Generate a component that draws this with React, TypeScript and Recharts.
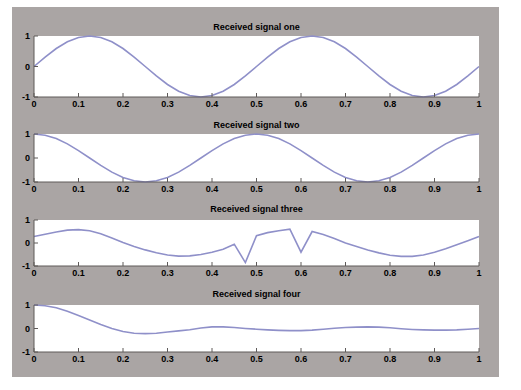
import React from "react";
import { LineChart, Line, XAxis, YAxis, CartesianGrid } from "recharts";

const xs = [
  0, 0.025, 0.05, 0.075, 0.1, 0.125, 0.15, 0.175, 0.2, 0.225, 0.25, 0.275, 0.3, 0.325, 0.35, 0.375, 0.4, 0.425, 0.45, 0.475,
  0.5, 0.525, 0.55, 0.575, 0.6, 0.625, 0.65, 0.675, 0.7, 0.725, 0.75, 0.775, 0.8, 0.825, 0.85, 0.875, 0.9, 0.925, 0.95, 0.975, 1,
];

const signalOne = [
  0, 0.31, 0.59, 0.81, 0.95, 1, 0.95, 0.81, 0.59, 0.31, 0, -0.31, -0.59, -0.81, -0.95, -1, -0.95, -0.81, -0.59, -0.31,
  0, 0.31, 0.59, 0.81, 0.95, 1, 0.95, 0.81, 0.59, 0.31, 0, -0.31, -0.59, -0.81, -0.95, -1, -0.95, -0.81, -0.59, -0.31, 0,
];

const signalTwo = [
  1, 0.95, 0.81, 0.59, 0.31, 0, -0.31, -0.59, -0.81, -0.95, -1, -0.95, -0.81, -0.59, -0.31, 0, 0.31, 0.59, 0.81, 0.95,
  1, 0.95, 0.81, 0.59, 0.31, 0, -0.31, -0.59, -0.81, -0.95, -1, -0.95, -0.81, -0.59, -0.31, 0, 0.31, 0.59, 0.81, 0.95, 1,
];

const signalThree = [
  0.28, 0.38, 0.48, 0.56, 0.58, 0.53, 0.4, 0.22, 0.02, -0.15, -0.3, -0.42, -0.52, -0.57, -0.56, -0.5, -0.4, -0.27, -0.05, -0.85,
  0.32, 0.45, 0.53, 0.6, -0.4, 0.5, 0.37, 0.2, 0.0, -0.15, -0.3, -0.43, -0.53, -0.58, -0.58, -0.52, -0.4, -0.25, -0.08, 0.1, 0.28,
];

const signalFour = [
  1.0, 0.97, 0.88, 0.73, 0.55, 0.36, 0.17, 0.0, -0.13, -0.2, -0.22, -0.2, -0.15, -0.1, -0.05, 0.02, 0.07, 0.07, 0.04, 0.0,
  -0.03, -0.06, -0.08, -0.09, -0.09, -0.07, -0.03, 0.01, 0.04, 0.06, 0.07, 0.06, 0.03, -0.01, -0.04, -0.06, -0.07, -0.07, -0.06, -0.03, 0.0,
];

const titles = ["Received signal one", "Received signal two", "Received signal three", "Received signal four"];
const xTicks = [0, 0.1, 0.2, 0.3, 0.4, 0.5, 0.6, 0.7, 0.8, 0.9, 1];
const yTicks = [-1, 0, 1];

const series = [signalOne, signalTwo, signalThree, signalFour];

// panel placement: chart top and height
const panels = [
  { top: 31, height: 86, titleY: 26.5 },
  { top: 129, height: 73, titleY: 125 },
  { top: 215, height: 71, titleY: 209 },
  { top: 300, height: 72, titleY: 294 },
];

const BG = "#aaa5a4";
const LINE = "#8f90c9";
const AXIS = "#5e5a59";
const FONT = "'Liberation Sans', Arial, sans-serif";

const fmt = (v: number) => String(v);

function Panel({ values, idx }: { values: number[]; idx: number }) {
  const p = panels[idx];
  const data = xs.map((x, i) => ({ x, v: values[i] }));
  const tickStyle = { fontSize: 9, fontWeight: 700, fill: "#000", fontFamily: FONT };
  return (
    <>
      <div
        style={{
          position: "absolute",
          left: 34,
          width: 445,
          top: p.titleY - 6,
          height: 12,
          lineHeight: "12px",
          textAlign: "center",
          fontFamily: FONT,
          fontWeight: 700,
          fontSize: 9,
          color: "#000",
        }}
      >
        {titles[idx]}
      </div>
      <div style={{ position: "absolute", left: 0, top: p.top }}>
        <LineChart width={521} height={p.height} data={data} margin={{ top: 5, right: 42, bottom: 0, left: 4 }}>
          <CartesianGrid fill="#ffffff" horizontal={false} vertical={false} />
          <XAxis
            xAxisId="b"
            dataKey="x"
            type="number"
            domain={[0, 1]}
            ticks={xTicks}
            tickFormatter={fmt}
            height={20}
            tickSize={-4}
            tickMargin={8}
            interval={0}
            axisLine={{ stroke: AXIS }}
            tickLine={{ stroke: AXIS }}
            tick={tickStyle}
          />
          <XAxis
            xAxisId="t"
            orientation="top"
            dataKey="x"
            type="number"
            domain={[0, 1]}
            ticks={xTicks}
            height={0}
            tickSize={-4}
            tick={false}
            axisLine={{ stroke: AXIS }}
            tickLine={{ stroke: AXIS }}
          />
          <YAxis
            yAxisId="l"
            type="number"
            domain={[-1, 1]}
            ticks={yTicks}
            tickFormatter={fmt}
            width={30}
            tickSize={-4}
            tickMargin={8}
            interval={0}
            axisLine={{ stroke: AXIS }}
            tickLine={{ stroke: AXIS }}
            tick={tickStyle}
          />
          <YAxis
            yAxisId="r"
            orientation="right"
            type="number"
            domain={[-1, 1]}
            ticks={yTicks}
            width={0}
            tickSize={-4}
            tick={false}
            axisLine={{ stroke: AXIS }}
            tickLine={{ stroke: AXIS }}
          />
          <Line
            xAxisId="b"
            yAxisId="l"
            type="linear"
            dataKey="v"
            stroke={LINE}
            strokeWidth={1.6}
            dot={false}
            isAnimationActive={false}
          />
        </LineChart>
      </div>
    </>
  );
}

export default function App() {
  return (
    <div style={{ position: "absolute", left: 0, top: 0, width: 521, height: 390, background: "#ffffff", overflow: "hidden" }}>
      <div style={{ position: "absolute", left: 12, top: 7, width: 487, height: 370, background: BG }} />
      {series.map((vals, i) => (
        <Panel key={i} values={vals} idx={i} />
      ))}
    </div>
  );
}
